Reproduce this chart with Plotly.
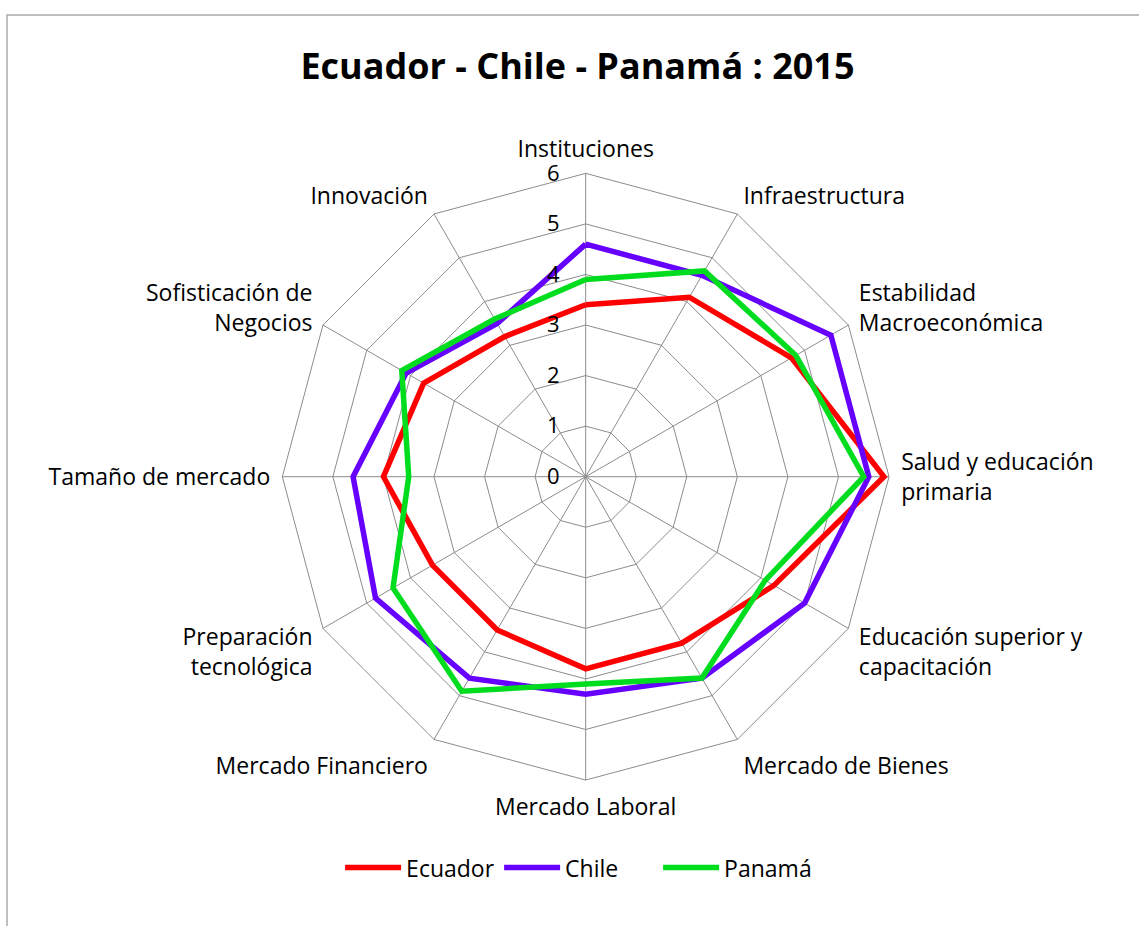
"""Ecuador - Chile - Panamá competitiveness radar (2015)."""

import plotly.graph_objects as go

categories = [
    "Instituciones",
    "Infraestructura",
    "Estabilidad<br>Macroeconómica",
    "Salud y educación<br>primaria",
    "Educación superior y<br>capacitación",
    "Mercado de Bienes",
    "Mercado Laboral",
    "Mercado Financiero",
    "Preparación<br>tecnológica",
    "Tamaño de mercado",
    "Sofisticación de<br>Negocios",
    "Innovación",
]

ecuador = [3.4, 4.1, 4.7, 5.9, 4.3, 3.8, 3.8, 3.5, 3.5, 4.0, 3.7, 3.2]
chile = [4.6, 4.6, 5.6, 5.6, 5.0, 4.6, 4.3, 4.6, 4.8, 4.6, 4.1, 3.5]
panama = [3.9, 4.7, 4.8, 5.5, 4.1, 4.6, 4.1, 4.9, 4.4, 3.5, 4.2, 3.6]

series = [("Ecuador", ecuador, "#FF0000"), ("Chile", chile, "#6600FF"), ("Panamá", panama, "#00DC1E")]

FONT = "Open Sans"
GRID = "#8c8c8c"

fig = go.Figure()
for name, values, color in series:
    fig.add_trace(
        go.Scatterpolar(
            r=values + values[:1],
            theta=categories + categories[:1],
            name=name,
            mode="lines",
            line={"color": color, "width": 5.5},
        )
    )

fig.update_layout(
    width=1139,
    height=926,
    margin={"l": 0, "r": 0, "t": 0, "b": 0},
    paper_bgcolor="white",
    font={"family": FONT, "size": 23, "color": "#000000"},
    title={
        "text": "<b>Ecuador - Chile - Panamá : 2015</b>",
        "x": 0.507,
        "xanchor": "center",
        "y": 0.928,
        "yanchor": "middle",
        "font": {"family": FONT, "size": 36, "color": "#000000"},
    },
    polar={
        "domain": {"x": [0.2478, 0.7806], "y": [0.1576, 0.8128]},
        "bgcolor": "white",
        "gridshape": "linear",
        "radialaxis": {
            "range": [0, 6],
            "dtick": 1,
            "angle": 90,
            "side": "counterclockwise",
            "tickangle": 90,
            "showline": False,
            "gridcolor": GRID,
            "gridwidth": 1,
            "ticks": "outside",
            "ticklen": 18,
            "tickcolor": "rgba(0,0,0,0)",
            "tickfont": {"size": 22, "color": "#000000"},
        },
        "angularaxis": {
            "direction": "clockwise",
            "rotation": 90,
            "showline": True,
            "linecolor": GRID,
            "linewidth": 1,
            "gridcolor": GRID,
            "gridwidth": 1,
            "ticks": "outside",
            "ticklen": 7,
            "tickcolor": "rgba(0,0,0,0)",
            "tickfont": {"size": 23, "color": "#000000"},
        },
    },
    legend={
        "orientation": "h",
        "x": 0.508,
        "xanchor": "center",
        "y": 0.063,
        "yanchor": "middle",
        "font": {"size": 23},
        "itemwidth": 56,
        "entrywidth": 88,
        "entrywidthmode": "pixels",
    },
    shapes=[
        {
            "type": "rect",
            "xref": "paper",
            "yref": "paper",
            "x0": 7 / 1139,
            "x1": 1.01,
            "y0": -0.01,
            "y1": 1 - 15 / 926,
            "line": {"color": "#aaaaaa", "width": 1.5},
        }
    ],
)

fig.write_html(
    "out.html",
    config={"displayModeBar": False},
    post_script="document.body.style.margin = '0';",
)
